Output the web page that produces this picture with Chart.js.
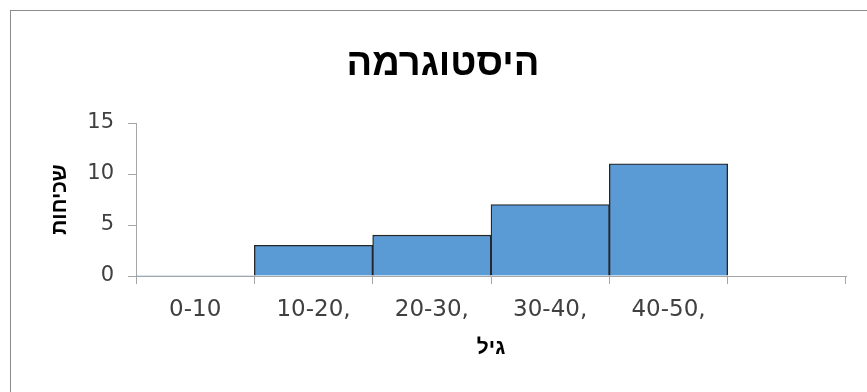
<!DOCTYPE html>
<html>
<head>
<meta charset="utf-8">
<script src="https://cdn.jsdelivr.net/npm/chart.js@4/dist/chart.umd.min.js"></script>
<style>
  html, body { margin: 0; padding: 0; background: #fff; }
  #wrap { position: relative; width: 867px; height: 392px; overflow: hidden; }
  #frame { position: absolute; left: 10px; top: 10px; width: 900px; height: 420px;
           border: 1px solid #8c8c8c; box-sizing: border-box; }
  canvas { position: absolute; left: 0; top: 0; }
</style>
</head>
<body>
<div id="wrap">
  <div id="frame"></div>
  <canvas id="c" width="867" height="392"></canvas>
</div>
<script>
// Age groups and their frequencies
const ageGroups = ['0-10', '10-20,', '20-30,', '30-40,', '40-50,', ''];
const frequencies = [0, 3, 4, 7, 11, null];
const yTicks = [0, 5, 10, 15];

const chartTitle = 'היסטוגרמה';
const xTitle = 'גיל';
const yTitle = 'שכיחות';

const NUM_FONT = '"DejaVu Sans", Verdana, sans-serif';
const HEB_FONT = '"Liberation Sans", Arial, sans-serif';
const AXIS = '#a6a6a6';

new Chart(document.getElementById('c'), {
  type: 'bar',
  data: {
    labels: ageGroups,
    datasets: [{
      data: frequencies,
      backgroundColor: '#5b9bd5',
      borderColor: '#262626',
      borderWidth: (ctx) => (ctx.raw ? 1.3 : 0),
      borderSkipped: 'bottom',
      barPercentage: 1,
      categoryPercentage: 1
    }]
  },
  options: {
    responsive: false,
    animation: false,
    layout: { padding: { left: 40, right: 21, top: 0, bottom: 0 } },
    plugins: {
      legend: { display: false },
      tooltip: { enabled: false },
      title: {
        display: true,
        text: chartTitle,
        color: '#000',
        font: { family: HEB_FONT, size: 38, weight: 'bold', lineHeight: 1.2 },
        padding: { top: 42, bottom: 35.4 }
      }
    },
    scales: {
      x: {
        grid: { drawOnChartArea: false, drawTicks: true, tickLength: 8, color: AXIS, offset: true },
        border: { display: true, color: AXIS, width: 1 },
        ticks: { color: '#404040', font: { family: NUM_FONT, size: 23 }, padding: 12, maxRotation: 0, autoSkip: false },
        title: {
          display: true, text: xTitle, color: '#000',
          font: { family: HEB_FONT, size: 21, weight: 'bold', lineHeight: 1.2 },
          padding: { top: 0, bottom: 31 }
        },
        afterFit: (s) => { s.height = 116; }
      },
      y: {
        min: 0, max: 15,
        afterBuildTicks: (s) => { s.ticks = yTicks.map(v => ({ value: v })); },
        grid: { drawOnChartArea: false, drawTicks: true, tickLength: 8, color: AXIS },
        border: { display: true, color: AXIS, width: 1 },
        ticks: { color: '#404040', font: { family: NUM_FONT, size: 21 }, padding: 14 },
        title: {
          display: true, text: yTitle, color: '#000',
          font: { family: HEB_FONT, size: 21, weight: 'bold', lineHeight: 1.2 },
          padding: { top: 8, bottom: 0 }
        },
        afterFit: (s) => { s.width = 96; }
      }
    }
  }
});
</script>
</body>
</html>
